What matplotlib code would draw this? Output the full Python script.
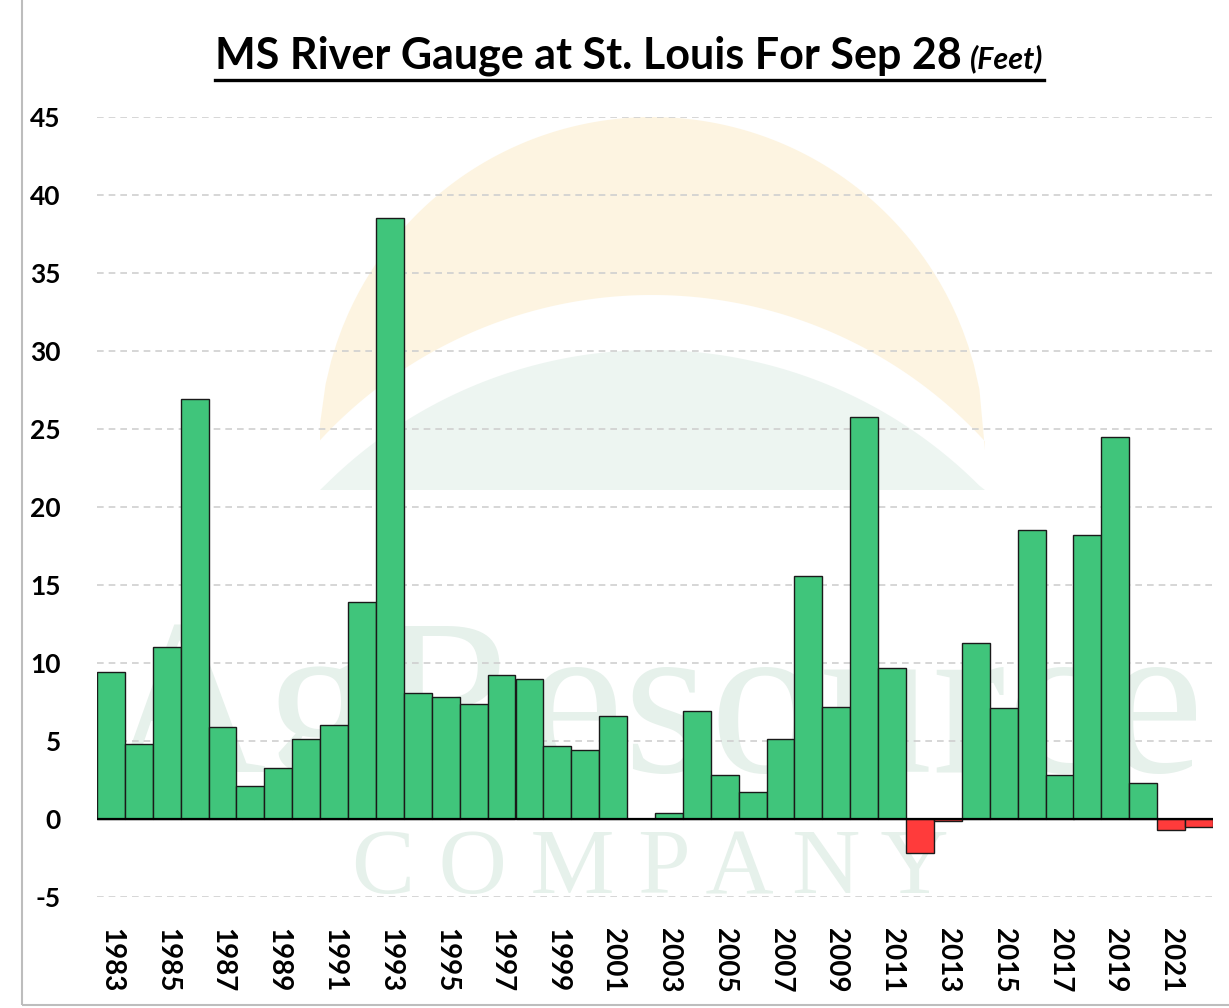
import matplotlib

matplotlib.use("Agg")

import matplotlib.pyplot as plt
import numpy as np
from matplotlib.patches import Polygon, Rectangle

years = list(range(1983, 2023))
gauge_ft = [
    9.4, 4.8, 11.0, 26.9, 5.9, 2.1, 3.3, 5.1, 6.0, 13.9,
    38.5, 8.1, 7.8, 7.4, 9.2, 9.0, 4.7, 4.4, 6.6, 0.0,
    0.4, 6.9, 2.8, 1.7, 5.1, 15.6, 7.2, 25.8, 9.7, -2.2,
    -0.1, 11.3, 7.1, 18.5, 2.8, 18.2, 24.5, 2.3, -0.7, -0.5,
]
tick_years = years[::2]
y_ticks = list(range(-5, 50, 5))

GREEN = "#40C57B"
RED = "#FF3B3B"
FONT = ["Lato", "DejaVu Sans"]
W, H = 1229, 1008

fig = plt.figure(figsize=(W / 100, H / 100), dpi=100)
ax = fig.add_axes([97 / W, 1 - 897 / H, (1213 - 97) / W, (897 - 117) / H])


def px(xp, yp):
    # pixel position (from top-left) -> inches for dpi_scale_trans
    return np.column_stack([np.asarray(xp) / 100, (H - np.asarray(yp)) / 100])


def arc(cx, cy, r, x0, x1, n=120):
    xs = np.linspace(x0, x1, n)
    return xs, cy - np.sqrt(np.clip(r ** 2 - (xs - cx) ** 2, 0, None))


# faint logo watermark: sun crescent and green dome
ox, oy = arc(652, 450, 333, 320, 985)
ix, iy = arc(652, 747, 452, 320, 985)
crescent = np.vstack([px(ox, oy), px(ix[::-1], iy[::-1])])
fig.add_artist(Polygon(crescent, closed=True, transform=fig.dpi_scale_trans,
                       facecolor="#FDF2DA", edgecolor="none", alpha=0.8, zorder=0))
dx, dy = arc(652, 813, 463, 320, 985)
dome = px(dx, np.minimum(dy, 490))
fig.add_artist(Polygon(dome, closed=True, transform=fig.dpi_scale_trans,
                       facecolor="#E9F3EE", edgecolor="none", alpha=0.8, zorder=0))

fig.text(655 / W, 1 - 772 / H, "AgResource", ha="center", va="baseline",
         fontsize=160, family="Liberation Serif", color="#E6F1EB", zorder=0)
fig.text(650 / W, 1 - 893 / H, "C O M P A N Y", ha="center", va="baseline",
         fontsize=68, family="Liberation Serif", color="#E6F1EB", zorder=0)

x = np.arange(len(years))
colors = [GREEN if v >= 0 else RED for v in gauge_ft]
ax.bar(x, gauge_ft, width=1.0, color=colors, edgecolor="#1a1a1a", linewidth=1.0, zorder=3)
ax.axhline(0, color="black", linewidth=1.6, zorder=4)

ax.set_xlim(-0.5, len(years) - 0.5)
ax.set_ylim(-5, 45)
ax.set_yticks(y_ticks)
ax.set_yticklabels([str(t) for t in y_ticks], fontsize=19, fontweight="bold", family=FONT)
ax.set_xticks([years.index(y) for y in tick_years])
ax.set_xticklabels([str(y) for y in tick_years], rotation=-90, fontsize=20,
                   fontweight="bold", family=FONT, va="top")
ax.tick_params(axis="both", length=0)
ax.tick_params(axis="y", pad=26)
ax.tick_params(axis="x", pad=22)
ax.grid(axis="y", color="#CFCFCF", linestyle=(0, (4, 3)), linewidth=1.2, zorder=1)
for spine in ax.spines.values():
    spine.set_visible(False)
ax.set_facecolor("none")
ax.set_zorder(2)

title = fig.text(215 / W, 1 - 68 / H, "MS River Gauge at St. Louis For Sep 28", fontsize=31,
                 fontweight="bold", family=FONT, va="baseline", ha="left")
fig.canvas.draw()
bb = title.get_window_extent()
unit = fig.text(bb.x1 / W + 0.007, 1 - 68 / H, "(Feet)", fontsize=22,
                fontweight="bold", style="italic", family=FONT, va="baseline", ha="left")
fig.canvas.draw()
bb2 = unit.get_window_extent()
y_line = 1 - 80 / H
fig.add_artist(plt.Line2D([bb.x0 / W, bb2.x1 / W], [y_line, y_line],
                          color="black", linewidth=2.4))

fig.add_artist(Rectangle((0.018, 0.003), 0.985, 1.0, transform=fig.transFigure,
                         fill=False, edgecolor="#BDBDBD", linewidth=1.5))

fig.savefig("out.png", dpi=100)
